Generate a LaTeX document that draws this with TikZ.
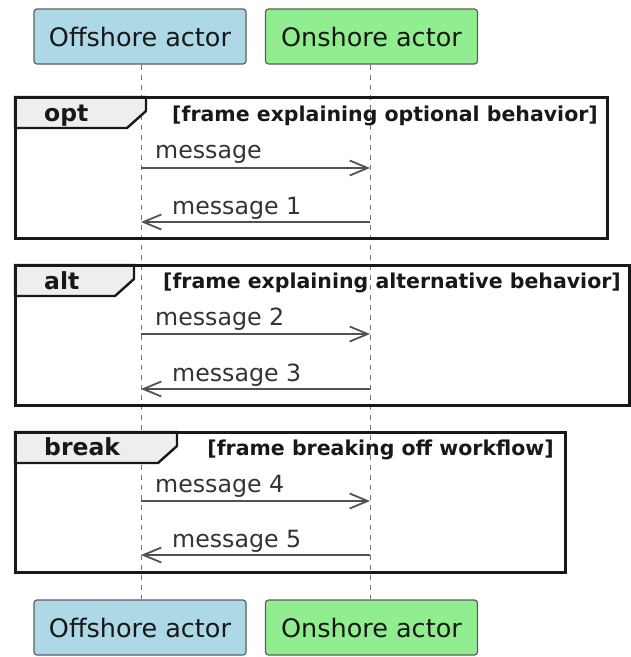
\documentclass[tikz,border=0pt]{standalone}
\usepackage{fontspec}
\setmainfont{DejaVu Sans}
\usetikzlibrary{arrows.meta}
\definecolor{offblue}{HTML}{ADD8E6}
\definecolor{ongreen}{HTML}{90EE90}
\definecolor{tabgray}{HTML}{EEEEEE}
\definecolor{ink}{HTML}{181818}
\definecolor{msgink}{HTML}{333333}
\tikzset{
  actorbox/.style={draw=ink!70, line width=1.2pt, rounded corners=3pt,
    minimum width=212pt, minimum height=55pt, inner sep=0pt,
    font=\fontsize{25.5}{30}\selectfont, text=ink},
  lifeline/.style={draw=ink!60, line width=1pt, dash pattern=on 5pt off 5pt},
  msg/.style={draw=msgink!85, line width=1.8pt,
    -{Straight Barb[length=18pt,width=15pt,line width=1.8pt]}},
  msglabel/.style={font=\fontsize{23.7}{28}\selectfont, text=msgink, inner sep=0pt},
  framebox/.style={draw=ink, line width=3pt},
  tabbox/.style={draw=ink, line width=2.4pt, fill=tabgray},
  tablabel/.style={font=\bfseries\fontsize{23.5}{28}\selectfont, text=ink, inner sep=0pt, anchor=base west},
  guardlabel/.style={font=\bfseries\fontsize{20.5}{24}\selectfont, text=ink, inner sep=0pt, anchor=base east},
}
\begin{document}
\begin{tikzpicture}[x=1pt,y=-1pt]
\useasboundingbox (0,0) rectangle (631,657);

% participants, top and bottom
\node[actorbox, fill=offblue] (offT) at (140,36.5) {Offshore actor};
\node[actorbox, fill=ongreen] (onT) at (371.5,36.5) {Onshore actor};
\node[actorbox, fill=offblue] (offB) at (140,627.5) {Offshore actor};
\node[actorbox, fill=ongreen] (onB) at (371.5,627.5) {Onshore actor};

% lifelines
\draw[lifeline] (offT.south -| 141,0) -- (offB.north -| 141,0);
\draw[lifeline] (onT.south -| 370,0) -- (onB.north -| 370,0);

% group tabs
\draw[tabbox] (15,97) -- (146,97) -- (146,111) -- (127,128) -- (15,128) -- cycle;
\draw[tabbox] (15,265) -- (134,265) -- (134,279) -- (115,296) -- (15,296) -- cycle;
\draw[tabbox] (15,432) -- (177,432) -- (177,446) -- (158,463) -- (15,463) -- cycle;

% group frames
\draw[framebox] (15,97) rectangle (607,238);
\draw[framebox] (15,265) rectangle (629,405);
\draw[framebox] (15,432) rectangle (565,572);

\node[tablabel] (optT) at (44,121) {opt};
\node[tablabel] (altT) at (44,289) {alt};
\node[tablabel] (brkT) at (44,455) {break};
\node[guardlabel] (optG) at (598,121) {[frame explaining optional behavior]};
\node[guardlabel] (altG) at (621,288) {[frame explaining alternative behavior]};
\node[guardlabel] (brkG) at (554,455) {[frame breaking off workflow]};

% message end points on the lifelines
\foreach \n/\y in {a/168, b/222, c/334, d/389, e/501, f/555}{
  \coordinate (L\n) at (141,\y);
  \coordinate (R\n) at (370,\y);
}

\draw[msg] (La) -- (Ra);
\draw[msg] (Rb) -- (Lb);
\draw[msg] (Lc) -- (Rc);
\draw[msg] (Rd) -- (Ld);
\draw[msg] (Le) -- (Re);
\draw[msg] (Rf) -- (Lf);

\node[msglabel, anchor=base west] (ta) at (155,158) {message};
\node[msglabel, anchor=base west] (tb) at (172,214) {message 1};
\node[msglabel, anchor=base west] (tc) at (155,325) {message 2};
\node[msglabel, anchor=base west] (td) at (172,381) {message 3};
\node[msglabel, anchor=base west] (te) at (155,492) {message 4};
\node[msglabel, anchor=base west] (tf) at (172,547) {message 5};
\end{tikzpicture}
\end{document}
